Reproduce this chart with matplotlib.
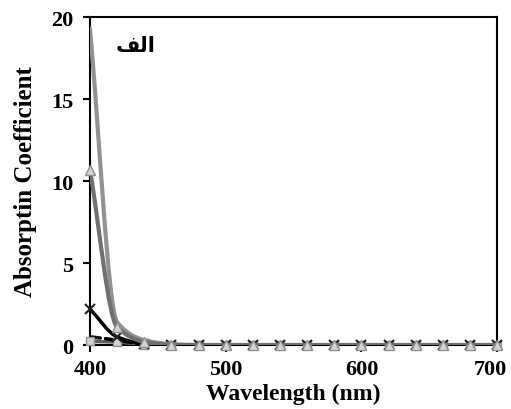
import numpy as np
import matplotlib.pyplot as plt
import matplotlib.transforms as mtransforms
from matplotlib.path import Path
from matplotlib.patches import PathPatch

wavelength = [400, 420, 440, 460, 480, 500, 520, 540, 560, 580, 600, 620, 640, 660, 680, 700]

# series values
series_a = [19.3, 1.4, 0.3, 0.05, 0, 0, 0, 0, 0, 0, 0, 0, 0, 0, 0, 0]
series_b = [10.7, 1.1, 0.2, 0.02, 0, 0, 0, 0, 0, 0, 0, 0, 0, 0, 0, 0]
series_c = [2.2, 0.5, 0.08, 0, 0, 0, 0, 0, 0, 0, 0, 0, 0, 0, 0, 0]
series_d = [0.5, 0.3, 0.05, 0, 0, 0, 0, 0, 0, 0, 0, 0, 0, 0, 0, 0]
series_e = [0.22, 0.18, 0.03, 0, 0, 0, 0, 0, 0, 0, 0, 0, 0, 0, 0, 0]

x_ticks = [400, 500, 600, 700]
y_ticks = [0, 5, 10, 15, 20]


def smooth_path(x, y):
    # monotone cubic (Fritsch-Carlson) written as bezier segments, like excel's smoothed line
    x = np.asarray(x, float)
    y = np.asarray(y, float)
    h = np.diff(x)
    d = np.diff(y) / h
    m = np.zeros_like(y)
    m[0], m[-1] = d[0], d[-1]
    for k in range(1, len(y) - 1):
        if d[k - 1] * d[k] <= 0:
            m[k] = 0
        else:
            m[k] = 2 / (1 / d[k - 1] + 1 / d[k])
    verts = [(x[0], y[0])]
    codes = [Path.MOVETO]
    for k in range(len(x) - 1):
        verts += [(x[k] + h[k] / 3, y[k] + m[k] * h[k] / 3),
                  (x[k + 1] - h[k] / 3, y[k + 1] - m[k + 1] * h[k] / 3),
                  (x[k + 1], y[k + 1])]
        codes += [Path.CURVE4] * 3
    return Path(verts, codes)


plt.rcParams['font.family'] = ['Liberation Serif', 'DejaVu Serif']
plt.rcParams['font.weight'] = 'bold'

fig = plt.figure(figsize=(5.11, 4.10), dpi=100)
ax = fig.add_axes([0.176, 0.156, 0.797, 0.800])

styles = [
    (series_e, dict(color='#606060', lw=2.5), dict(marker='s', ms=6, mfc='#d0d0d0', mec='#909090'), 3),
    (series_d, dict(color='black', lw=2.5, ls=(0, (3, 1.5))), None, 3),
    (series_c, dict(color='black', lw=2.5), dict(marker='x', ms=7, mec='#202020', mew=1.5), 4),
    (series_a, dict(color='#929292', lw=3), None, 5),
    (series_b, dict(color='#707070', lw=3), dict(marker='^', ms=7, mfc='#d4d4d4', mec='#909090'), 6),
]
for vals, lstyle, mstyle, z in styles:
    ax.add_patch(PathPatch(smooth_path(wavelength, vals), fill=False, zorder=z,
                           capstyle='round', joinstyle='round',
                           edgecolor=lstyle['color'], linewidth=lstyle['lw'],
                           linestyle=lstyle.get('ls', '-')))
    if mstyle:
        ax.plot(wavelength, vals, ls='none', zorder=z + 0.5, clip_on=False, **mstyle)

ax.set_xlim(400, 700)
ax.set_ylim(0, 20)
ax.set_xticks(x_ticks)
ax.set_yticks(y_ticks)
ax.tick_params(direction='out', length=5, width=1.5, labelsize=16)
ax.tick_params(axis='x', pad=5)
ax.tick_params(axis='y', pad=7)
for lab in ax.get_xticklabels() + ax.get_yticklabels():
    lab.set_fontweight('bold')
# nudge the last x label left so it stays inside the figure
last = ax.xaxis.get_major_ticks()[-1].label1
last.set_transform(last.get_transform() +
                   mtransforms.ScaledTranslation(-5 / 72, 0, fig.dpi_scale_trans))
for s in ax.spines.values():
    s.set_linewidth(1.5)
    s.set_zorder(2)

ax.set_xlabel('Wavelength (nm)', fontsize=17, fontweight='bold', labelpad=3)
ax.set_ylabel('Absorptin Coefficient', fontsize=18, fontweight='bold', labelpad=10)

# arabic label written in presentation forms so it joins correctly
ax.text(0.064, 0.915, '\ufed2\ufedf\ufe8d', transform=ax.transAxes,
        family=['DejaVu Sans'], fontsize=15, fontweight='bold', ha='left', va='center')

fig.savefig('out.png', dpi=100)
